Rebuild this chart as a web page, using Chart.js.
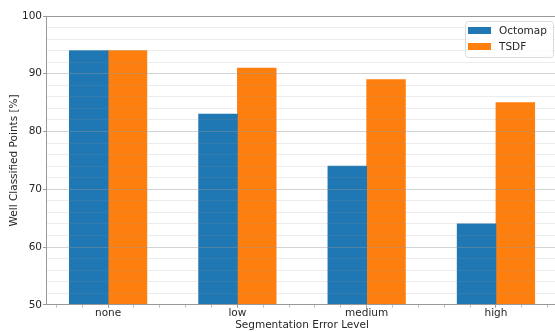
<!DOCTYPE html>
<html>
<head>
<meta charset="utf-8">
<script src="https://cdn.jsdelivr.net/npm/chart.js@4.4.1/dist/chart.umd.min.js"></script>
<style>
html,body{margin:0;padding:0;background:#fff;overflow:hidden;width:555px;height:332px;}
canvas{display:block;}
</style>
</head>
<body>
<canvas id="c" width="565" height="332"></canvas>
<script>
const categories = ['none', 'low', 'medium', 'high'];
const octomapValues = [94, 83, 74, 64];
const tsdfValues = [94, 91, 89, 85];
const seriesNames = ['Octomap', 'TSDF'];
const seriesColors = ['#1f77b4', '#ff7f0e'];
const yTickLabels = [50, 60, 70, 80, 90, 100];
const xAxisTitle = 'Segmentation Error Level';
const yAxisTitle = 'Well Classified Points [%]';

const FONT = 'DejaVu Sans';
const TEXT = '#262626';
const SPINE = '#9a9a9a';

const toPoints = arr => arr.map((v, i) => ({x: i, y: v}));
const tickVal = c => (c && c.tick) ? c.tick.value : NaN;
const isInt = v => Math.abs(v - Math.round(v)) < 1e-6;

const insideLegend = {
  id: 'insideLegend',
  afterDraw(chart) {
    const ctx = chart.ctx, ca = chart.chartArea;
    const fs = 10.5;
    const w = 88, h = 36;
    const x = ca.right - 5 - w, y = ca.top + 5;
    ctx.save();
    ctx.beginPath();
    ctx.roundRect(x + 0.5, y + 0.5, w, h, 3);
    ctx.fillStyle = 'rgba(255,255,255,0.8)';
    ctx.fill();
    ctx.strokeStyle = '#dcdcdc';
    ctx.lineWidth = 1;
    ctx.stroke();
    ctx.font = fs + 'px "' + FONT + '"';
    ctx.textBaseline = 'middle';
    ctx.textAlign = 'left';
    chart.data.datasets.forEach((ds, i) => {
      const cy = y + 9.5 + i * 16;
      ctx.fillStyle = ds.backgroundColor;
      ctx.fillRect(x + 3, cy - 3.5, 23, 7);
      ctx.fillStyle = TEXT;
      ctx.fillText(ds.label, x + 34, cy + 0.5);
    });
    ctx.restore();
  }
};

new Chart(document.getElementById('c'), {
  type: 'bar',
  data: {
    datasets: [
      {label: seriesNames[0], data: toPoints(octomapValues), backgroundColor: seriesColors[0], borderWidth: 0},
      {label: seriesNames[1], data: toPoints(tsdfValues), backgroundColor: seriesColors[1], borderWidth: 0}
    ]
  },
  options: {
    responsive: false,
    animation: false,
    layout: {autoPadding: false, padding: {left: 0, top: 16, right: 7, bottom: 0}},
    datasets: {bar: {categoryPercentage: 0.6, barPercentage: 1.0, grouped: true, barThickness: 'flex'}},
    plugins: {legend: {display: false}, tooltip: {enabled: false}},
    scales: {
      x: {
        type: 'linear',
        offset: false,
        min: -0.48,
        max: 3.48,
        afterBuildTicks(scale) {
          const t = [];
          for (let k = -2; k <= 17; k++) t.push({value: k / 5});
          scale.ticks = t;
        },
        grid: {
          offset: false,
          drawOnChartArea: false,
          drawTicks: true,
          tickLength: 3,
          tickColor: c => isInt(tickVal(c)) ? SPINE : '#c4c4c4'
        },
        border: {display: true, color: SPINE, width: 1, z: 1},
        ticks: {
          autoSkip: false,
          maxRotation: 0,
          padding: 0,
          color: TEXT,
          font: {family: FONT, size: 10.5, lineHeight: 1.0},
          callback: v => isInt(v) ? (categories[Math.round(v)] ?? '') : ''
        },
        title: {display: true, text: xAxisTitle, color: TEXT, font: {family: FONT, size: 10.5, lineHeight: 1.2}, padding: {top: 0.2, bottom: 0.9}}
      },
      y: {
        min: 50,
        max: 100,
        afterBuildTicks(scale) {
          const t = [];
          for (let v = yTickLabels[0]; v <= yTickLabels[yTickLabels.length - 1]; v += 2) t.push({value: v});
          scale.ticks = t;
        },
        grid: {
          z: 1,
          drawTicks: true,
          tickLength: 3,
          color: c => {
            const v = tickVal(c);
            if (v === 100) return SPINE;
            return yTickLabels.includes(v) ? 'rgba(150,150,150,0.42)' : 'rgba(150,150,150,0.18)';
          },
          tickColor: c => yTickLabels.includes(tickVal(c)) ? SPINE : 'rgba(0,0,0,0)'
        },
        border: {display: true, color: SPINE, width: 1, z: 1},
        ticks: {
          autoSkip: false,
          padding: 1,
          color: TEXT,
          font: {family: FONT, size: 10.5},
          callback: v => yTickLabels.includes(v) ? String(v) : ''
        },
        title: {display: true, text: yAxisTitle, color: TEXT, font: {family: FONT, size: 10.5, lineHeight: 1.2}, padding: {top: 7.7, bottom: 0.7}}
      }
    }
  },
  plugins: [insideLegend]
});
</script>
</body>
</html>
